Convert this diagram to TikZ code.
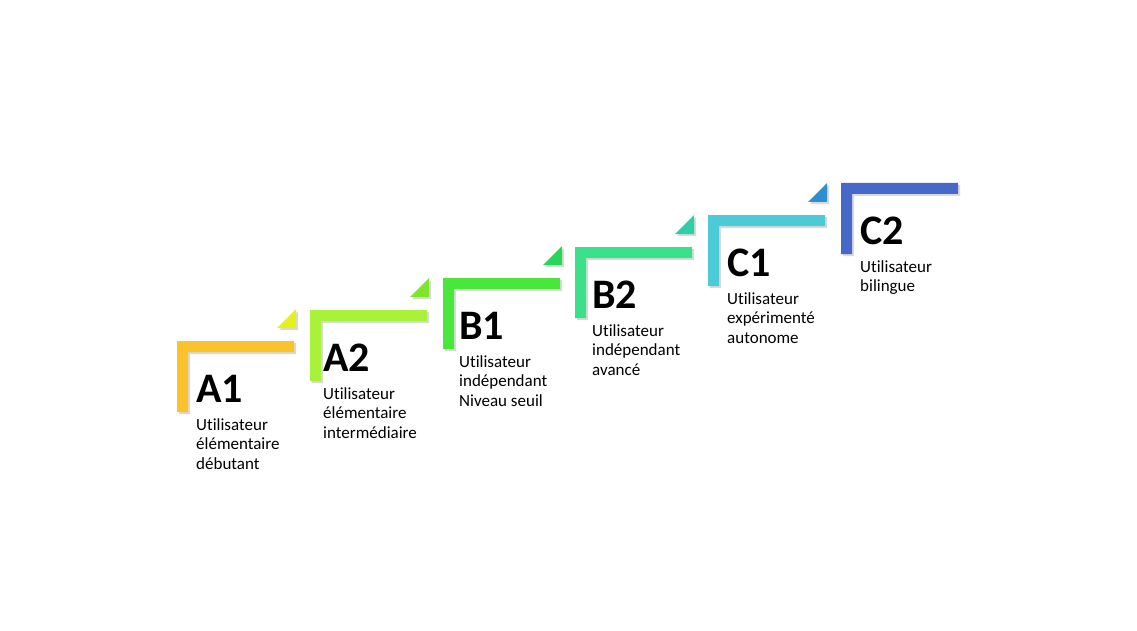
\documentclass[tikz,border=0pt]{standalone}
\usepackage{fontspec}
\setmainfont{Carlito}[Ligatures=NoCommon]
\usetikzlibrary{shadows, positioning, calc}

\definecolor{barA1}{HTML}{FCC22B}
\definecolor{barA2}{HTML}{A8F23A}
\definecolor{barB1}{HTML}{49E63C}
\definecolor{barB2}{HTML}{3BE08A}
\definecolor{barC1}{HTML}{4ACBD6}
\definecolor{barC2}{HTML}{4568C9}
\definecolor{triA1}{HTML}{E6F01A}
\definecolor{triA2}{HTML}{7EE52F}
\definecolor{triB1}{HTML}{28D65B}
\definecolor{triB2}{HTML}{2ECFA6}
\definecolor{triC1}{HTML}{2E8FD0}

\begin{document}
\begin{tikzpicture}[
    x=1pt, y=-1pt,
    bar/.style={draw=none, drop shadow={opacity=0.3, shadow xshift=2pt, shadow yshift=-2pt}},
    level/.style={font=\fontsize{42}{42}\selectfont\bfseries, anchor=base west, inner sep=0pt},
    desc/.style={font=\fontsize{17}{19.5}\selectfont, anchor=base west, inner sep=0pt}
]
\useasboundingbox (0,0) rectangle (1137,631);

% steps: name / corner x / corner y / text offset / description
\foreach \lvl/\cx/\cy/\dx/\txt in {
    A1/177/341/19/{Utilisateur\\élémentaire\\débutant},
    A2/310/310/13/{Utilisateur\\élémentaire\\intermédiaire},
    B1/443/278/16/{Utilisateur\\indépendant\\Niveau seuil},
    B2/575/247/17/{Utilisateur\\indépendant\\avancé},
    C1/708/215/19/{Utilisateur\\expérimenté\\autonome},
    C2/841/183/19/{Utilisateur\\bilingue}} {
  \coordinate (c\lvl) at (\cx,\cy);
  \fill[bar, bar\lvl] (c\lvl) -- ++(117,0) -- ++(0,11) -- ++(-106,0)
      -- ++(0,60) -- ++(-11,0) -- cycle;
  \node[level] (lv\lvl) at ($(c\lvl)+(\dx,61)$) {\lvl};
  \node[desc] (txt\lvl) at ($(c\lvl)+(\dx,89)$)
      {\begin{tabular}[t]{@{}l@{}}\txt\end{tabular}};
}

% corner triangles
\foreach \lvl in {A1, A2, B1, B2, C1} {
  \fill[bar, tri\lvl] ($(c\lvl)+(100,-13)$) -- ++(19,0) -- ++(0,-19) -- cycle;
}
\end{tikzpicture}
\end{document}
